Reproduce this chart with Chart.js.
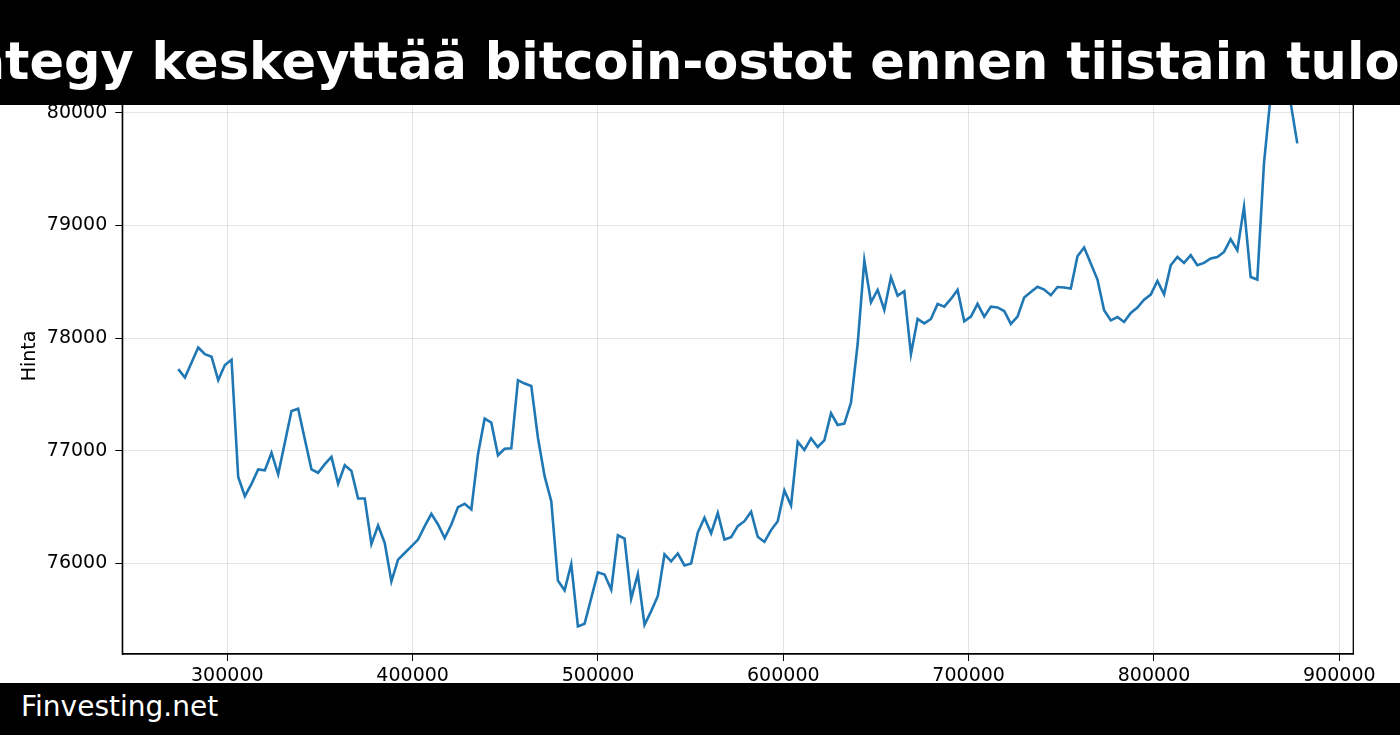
<!DOCTYPE html>
<html>
<head>
<meta charset="utf-8">
<script src="https://cdn.jsdelivr.net/npm/chart.js"></script>
<style>
  body { margin: 0; background: #fff; width: 1400px; height: 735px; overflow: hidden; position: relative; }
  #chart { position: absolute; left: 0; top: 0; }
  #banner {
    position: absolute; left: 0; top: 0; width: 1400px; height: 105px; background: #000;
    display: flex; justify-content: center; align-items: center; overflow: hidden;
  }
  #banner span {
    color: #fff; font: bold 51px "DejaVu Sans"; white-space: nowrap; flex: none; margin-top: 17px;
  }
  #footer {
    position: absolute; left: 0; top: 683px; width: 1400px; height: 52px; background: #000;
    color: #fff; font: 28px "DejaVu Sans";
  }
  #footer span { position: absolute; left: 21px; top: 7px; }
</style>
</head>
<body>
<canvas id="chart" width="1400" height="735"></canvas>
<div id="banner"><span>Strategy keskeyttää bitcoin-ostot ennen tiistain tuloksia</span></div>
<div id="footer"><span>Finvesting.net</span></div>
<script>
// hinta, tasavälein x-indeksillä
var xStart = 273536;
var xStep = 3594;
var prices = [
  77724, 77650, 77783, 77916, 77857, 77834, 77626, 77760, 77807, 76766,
  76596, 76706, 76834, 76825, 76982, 76790, 77071, 77353, 77373, 77101,
  76834, 76804, 76880, 76944, 76706, 76870, 76819, 76576, 76576, 76172,
  76336, 76181, 75840, 76033, 76092, 76151, 76211, 76330, 76439, 76345,
  76225, 76345, 76499, 76528, 76478, 76968, 77284, 77249, 76959, 77017,
  77021, 77626, 77596, 77575, 77115, 76774, 76552, 75846, 75760, 75994,
  75440, 75463, 75691, 75920, 75900, 75766, 76249, 76220, 75686, 75905,
  75455, 75576, 75710, 76080, 76018, 76087, 75981, 75998, 76273, 76405,
  76267, 76448, 76211, 76232, 76330, 76374, 76457, 76235, 76190, 76295,
  76374, 76647, 76514, 77080, 77006, 77110, 77033, 77092, 77332, 77228,
  77240, 77427, 77947, 78688, 78317, 78427, 78249, 78539, 78376, 78415,
  77858, 78169, 78130, 78169, 78303, 78279, 78347, 78427, 78148, 78190,
  78303, 78190, 78279, 78272, 78240, 78125, 78190, 78360, 78408, 78455,
  78430, 78380, 78453, 78448, 78439, 78726, 78803, 78661, 78519, 78246,
  78157, 78187, 78142, 78222, 78270, 78341, 78386, 78507, 78388, 78646,
  78720, 78667, 78735, 78646, 78667, 78706, 78720, 78764, 78877, 78780,
  79164, 78542, 78519, 79550, 80150, 80220, 80200, 80090, 79728
];
var xTicks = [300000, 400000, 500000, 600000, 700000, 800000, 900000];
var yTicks = [76000, 77000, 78000, 79000, 80000];

var points = prices.map(function(p, i){ return {x: xStart + i * xStep, y: p}; });

var tickFont = {family: 'DejaVu Sans', size: 19};

var frame = {
  id: 'frame',
  afterDraw: function(chart){
    var a = chart.chartArea, ctx = chart.ctx;
    ctx.save();
    ctx.strokeStyle = '#000';
    ctx.lineWidth = 1.3;
    ctx.strokeRect(a.left, a.top, a.right - a.left, a.bottom - a.top);
    ctx.restore();
  }
};

new Chart(document.getElementById('chart').getContext('2d'), {
  type: 'line',
  data: {
    datasets: [{
      data: points,
      borderColor: '#1f77b4',
      borderWidth: 2.6,
      pointRadius: 0,
      tension: 0,
      fill: false
    }]
  },
  options: {
    responsive: false,
    animation: false,
    devicePixelRatio: 1,
    layout: {padding: {top: 58, right: 46.7, left: 0, bottom: 0}},
    plugins: {legend: {display: false}, tooltip: {enabled: false}},
    scales: {
      x: {
        type: 'linear',
        min: 243345,
        max: 907554,
        afterBuildTicks: function(s){ s.ticks = xTicks.map(function(v){ return {value: v}; }); },
        afterFit: function(s){ s.height = 81; },
        ticks: {font: tickFont, color: '#000', padding: 4, maxRotation: 0,
          callback: function(v){ return String(v); }},
        grid: {color: 'rgba(0,0,0,0.1)', lineWidth: 1, tickColor: '#000', tickLength: 7},
        border: {color: '#000', width: 1.3}
      },
      y: {
        min: 75195,
        max: 80486,
        afterBuildTicks: function(s){ s.ticks = yTicks.map(function(v){ return {value: v}; }); },
        afterFit: function(s){ s.width = 122.3; },
        ticks: {font: tickFont, color: '#000', padding: 8,
          callback: function(v){ return String(v); }},
        grid: {color: 'rgba(0,0,0,0.1)', lineWidth: 1, tickColor: '#000', tickLength: 7},
        border: {color: '#000', width: 1.3},
        title: {display: true, text: 'Hinta', font: tickFont, color: '#000', padding: {top: 19}}
      }
    }
  },
  plugins: [frame]
});
</script>
</body>
</html>
